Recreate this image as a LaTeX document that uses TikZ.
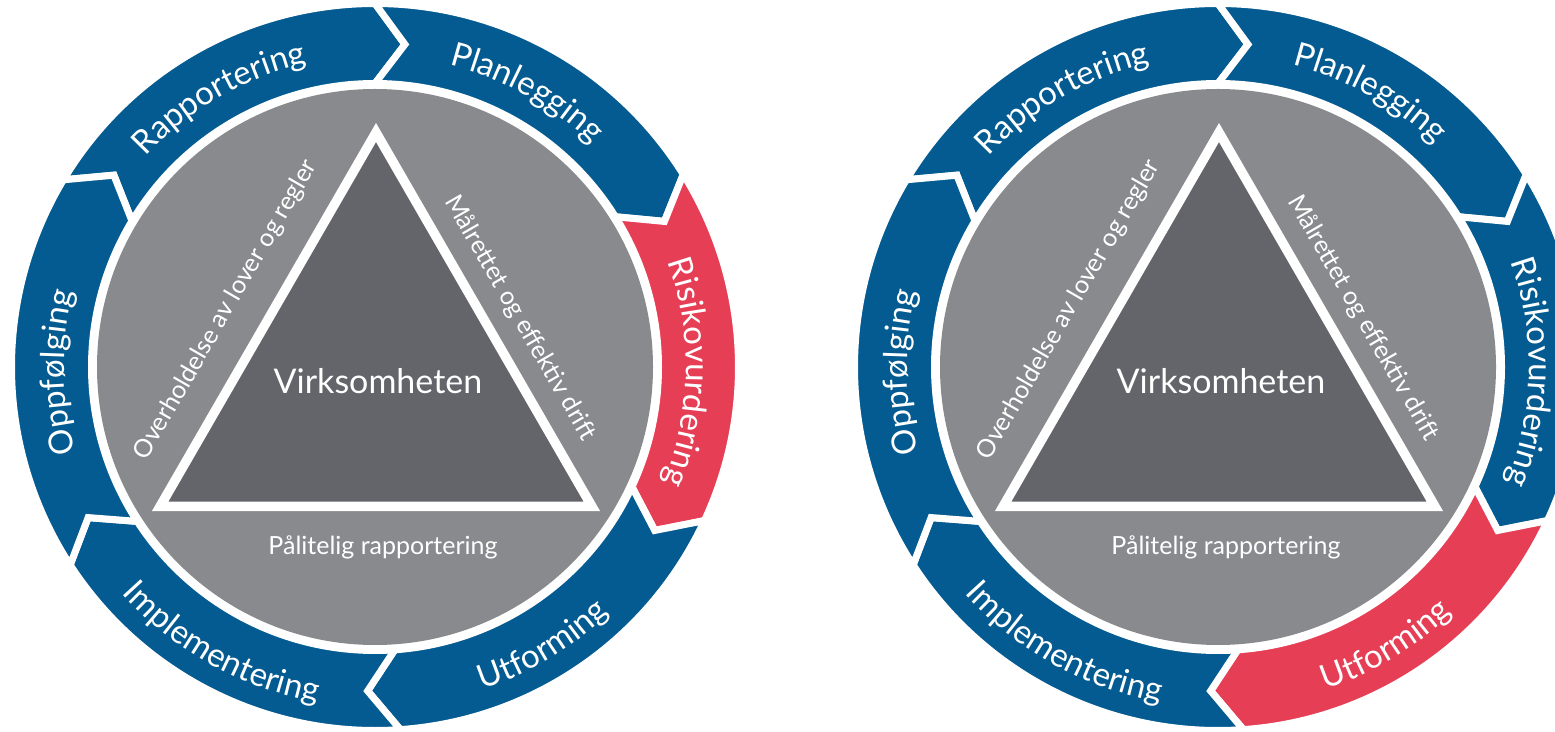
\documentclass[tikz,border=0pt]{standalone}
\usepackage{fontspec}
\setmainfont{Lato}
\definecolor{ringblue}{RGB}{3, 91, 145}
\definecolor{ringred}{RGB}{230, 62, 85}
\definecolor{discgray}{RGB}{137, 138, 142}
\definecolor{coregray}{RGB}{100, 101, 106}
\usetikzlibrary{decorations.text}

\newcommand{\ringfont}{\fontsize{33}{38}\selectfont\color{white}}

% one arrow piece of the ring: tail angle, head angle, colour
\newcommand{\ringseg}[3]{%
  \fill[#3, draw=white, line width=7pt, line join=miter]
    (#1:363.5pt) arc[start angle=#1, end angle=#2, radius=363.5pt]
    -- ({#2-5.3}:324pt) -- (#2:283.5pt)
    arc[start angle=#2, end angle=#1, radius=283.5pt]
    -- ({#1-5.3}:324pt) -- cycle;}

% curved labels on the ring
\newcommand{\toplabel}[3]{%
  \path[decorate, decoration={text along path, text align=center, text={|\ringfont|#3}}]
    (#1:311pt) arc[start angle=#1, end angle=#2, radius=311pt];}
\newcommand{\botlabel}[3]{%
  \path[decorate, decoration={text along path, text align=center, text={|\ringfont|#3}}]
    (#1:340pt) arc[start angle=#1, end angle=#2, radius=340pt];}

% whole wheel: shift, colour of Risikovurdering, colour of Utforming, name prefix
\newcommand{\wheel}[4]{%
\begin{scope}[shift={#1}]
  % Disc and triangle
  \fill[discgray] (0,0) circle[radius=278pt];
  \draw[white, line width=9.5pt, fill=coregray, line join=miter]
    (-214.9,-139.4) -- (1,234.5) -- (216.9,-139.4) -- cycle;

  \node[text=white, font=\fontsize{34}{38}\selectfont] (#4core) at (3,-14) {Virksomheten};
  \node[text=white, font=\fontsize{25}{30}\selectfont, rotate=60] (#4law) at (-149,57) {Overholdelse av lover og regler};
  \node[text=white, font=\fontsize{25}{30}\selectfont, rotate=-60] (#4ops) at (145,49) {Målrettet og effektiv drift};
  \node[text=white, font=\fontsize{25}{30}\selectfont, anchor=base] (#4rep) at (8,-188) {Pålitelig rapportering};

  % Ring
  \ringseg{149}{90}{ringblue}
  \ringseg{90}{32}{ringblue}
  \ringseg{32}{-25}{#2}
  \ringseg{-25}{-86}{#3}
  \ringseg{-86}{-147}{ringblue}
  \ringseg{213}{149}{ringblue}

  \toplabel{160}{80}{Rapportering}
  \toplabel{101}{21}{Planlegging}
  \toplabel{39}{-41}{Risikovurdering}
  \botlabel{-99}{-19}{Utforming}
  \botlabel{-159}{-79}{Implementering}
  \toplabel{221}{141}{Oppfølging}
\end{scope}}

\begin{document}
\begin{tikzpicture}[x=1pt, y=1pt]
  \useasboundingbox (0,0) rectangle (1555,731);
  \clip (0,0) rectangle (1555,731);

  % Left: risk assessment highlighted
  \wheel{(375,364)}{ringred}{ringblue}{l}
  % Right: design highlighted
  \wheel{(1218,364)}{ringblue}{ringred}{r}
\end{tikzpicture}
\end{document}
